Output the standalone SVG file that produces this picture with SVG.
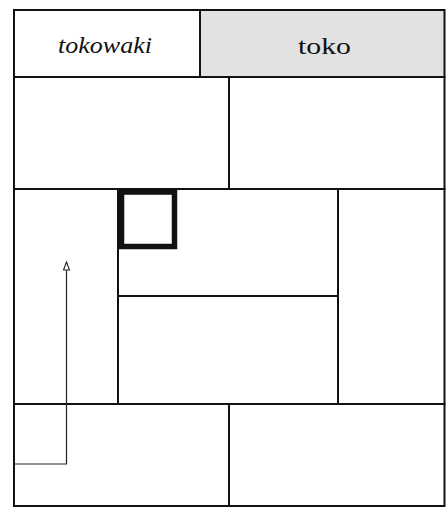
<svg xmlns="http://www.w3.org/2000/svg" width="448" height="508" viewBox="0 0 448 508">
<style>
.cell{fill:#fff;stroke:#111;stroke-width:2}
.lbl{font-family:"Liberation Serif","Times New Roman",serif;font-size:23px;fill:#111;text-anchor:middle}
.path{fill:none;stroke:#222;stroke-width:1.2}
</style>
<defs>
<marker id="ah" markerWidth="10" markerHeight="8" refX="9" refY="4" orient="auto" markerUnits="userSpaceOnUse">
<path d="M9,4 L1,1 L1,7 Z" fill="#fff" stroke="#222" stroke-width="1.1"/>
</marker>
</defs>
<rect x="0" y="0" width="448" height="508" fill="#fff"/>
<g id="tokowaki"><rect class="cell" x="14" y="10" width="186" height="67"/><text class="lbl" x="105" y="53" font-style="italic" textLength="94" lengthAdjust="spacingAndGlyphs">tokowaki</text></g>
<g id="toko"><rect class="cell" x="200" y="10" width="244.5" height="67" style="fill:#e2e2e2"/><text class="lbl" x="324.5" y="54" textLength="53" lengthAdjust="spacingAndGlyphs">toko</text></g>
<g id="r2a"><rect class="cell" x="14" y="77" width="215" height="112"/></g>
<g id="r2b"><rect class="cell" x="229" y="77" width="215.5" height="112"/></g>
<g id="r3a"><rect class="cell" x="14" y="189" width="104" height="215"/></g>
<g id="r3b"><rect class="cell" x="118" y="189" width="220" height="107"/></g>
<g id="r3c"><rect class="cell" x="118" y="296" width="220" height="108"/></g>
<g id="r3d"><rect class="cell" x="338" y="189" width="106.5" height="215"/></g>
<g id="r4a"><rect class="cell" x="14" y="404" width="215" height="102"/></g>
<g id="r4b"><rect class="cell" x="229" y="404" width="215.5" height="102"/></g>
<g id="square"><rect x="121.5" y="192" width="53" height="54.5" fill="none" stroke="#111" stroke-width="5.5"/></g>
<g id="connectors"><path class="path" d="M14,464 H66.5 V262" marker-end="url(#ah)"/></g>
</svg>
